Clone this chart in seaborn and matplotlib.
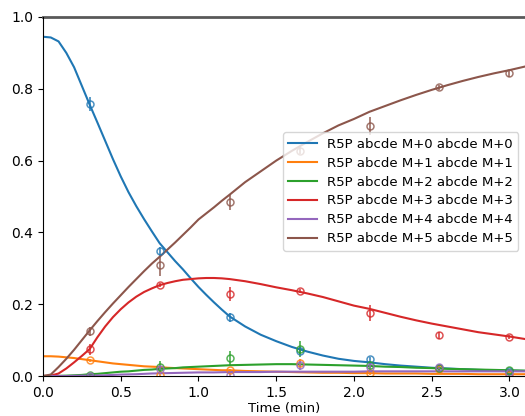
import matplotlib
matplotlib.use("Agg")
import matplotlib.pyplot as plt
import seaborn as sns
import pandas as pd
import numpy as np

labels = ["R5P abcde M+0 abcde M+0", "R5P abcde M+1 abcde M+1",
          "R5P abcde M+2 abcde M+2", "R5P abcde M+3 abcde M+3",
          "R5P abcde M+4 abcde M+4", "R5P abcde M+5 abcde M+5"]
colors = ["#1f77b4", "#ff7f0e", "#2ca02c", "#d62728", "#9467bd", "#8c564b"]

# simulated curves (read at 0.05 min steps up to 1.2, then 0.1)
t_sim = [0.0, 0.05, 0.1, 0.15, 0.2, 0.25, 0.3, 0.35, 0.4, 0.45, 0.5, 0.55, 0.6, 0.65,
         0.7, 0.75, 0.8, 0.85, 0.9, 0.95, 1.0, 1.05, 1.1, 1.15, 1.2,
         1.3, 1.4, 1.5, 1.6, 1.7, 1.8, 1.9, 2.0, 2.1, 2.2, 2.3, 2.4, 2.5, 2.6, 2.7,
         2.8, 2.9, 3.0, 3.1]
sim_m0 = [0.945, 0.943, 0.932, 0.900, 0.860, 0.808, 0.756, 0.706, 0.655, 0.604, 0.556,
          0.512, 0.473, 0.437, 0.403, 0.370, 0.345, 0.320, 0.297, 0.272, 0.248, 0.226,
          0.205, 0.185, 0.166,
          0.138, 0.115, 0.097, 0.081, 0.068, 0.057, 0.048, 0.042, 0.038, 0.033, 0.029,
          0.026, 0.023, 0.021, 0.019, 0.017, 0.016, 0.015, 0.014]
sim_m1 = [0.055, 0.055, 0.054, 0.052, 0.050, 0.047, 0.044, 0.041, 0.038, 0.035, 0.033,
          0.031, 0.029, 0.027, 0.026, 0.025, 0.023, 0.022, 0.021, 0.020, 0.019, 0.018,
          0.017, 0.016, 0.016,
          0.014, 0.013, 0.012, 0.011, 0.010, 0.009, 0.009, 0.008, 0.008, 0.007, 0.007,
          0.007, 0.006, 0.006, 0.006, 0.005, 0.005, 0.005, 0.005]
sim_m2 = [0.0, 0.0, 0.0005, 0.001, 0.002, 0.003, 0.005, 0.006, 0.008, 0.010, 0.012,
          0.013, 0.015, 0.017, 0.018, 0.020, 0.021, 0.022, 0.024, 0.025, 0.026, 0.027,
          0.028, 0.029, 0.030,
          0.031, 0.032, 0.033, 0.033, 0.032, 0.031, 0.030, 0.029, 0.028, 0.026, 0.025,
          0.023, 0.022, 0.020, 0.019, 0.018, 0.017, 0.016, 0.015]
sim_m3 = [0.0, 0.001, 0.007, 0.021, 0.038, 0.056, 0.075, 0.108, 0.138, 0.164, 0.186,
          0.205, 0.221, 0.234, 0.244, 0.253, 0.259, 0.264, 0.268, 0.270, 0.272, 0.273,
          0.273, 0.272, 0.270,
          0.264, 0.256, 0.247, 0.239, 0.230, 0.220, 0.208, 0.196, 0.187, 0.176, 0.165,
          0.155, 0.146, 0.138, 0.130, 0.122, 0.116, 0.110, 0.103]
sim_m4 = [0.0, 0.0, 0.0, 0.0, 0.0005, 0.001, 0.001, 0.0015, 0.002, 0.003, 0.004,
          0.0045, 0.005, 0.006, 0.007, 0.0075, 0.008, 0.0085, 0.009, 0.0095, 0.010, 0.010,
          0.010, 0.0105, 0.011,
          0.011, 0.011, 0.012, 0.012, 0.012, 0.012, 0.012, 0.012, 0.013, 0.013, 0.013,
          0.013, 0.013, 0.013, 0.013, 0.013, 0.013, 0.013, 0.013]
sim_m5 = [0.0, 0.004, 0.025, 0.048, 0.073, 0.100, 0.127, 0.153, 0.178, 0.202, 0.225,
          0.248, 0.270, 0.292, 0.313, 0.332, 0.352, 0.372, 0.393, 0.414, 0.436, 0.453,
          0.470, 0.488, 0.505,
          0.540, 0.570, 0.600, 0.627, 0.652, 0.676, 0.698, 0.716, 0.736, 0.752, 0.768,
          0.783, 0.797, 0.810, 0.822, 0.833, 0.843, 0.852, 0.862]

# measured data
t_obs = [0.3, 0.75, 1.2, 1.65, 2.1, 2.55, 3.0]
obs_m0 = [0.758, 0.348, 0.163, 0.070, 0.047, 0.022, 0.013]
obs_m1 = [0.044, 0.002, 0.016, 0.036, 0.007, 0.020, 0.003]
obs_m2 = [0.002, 0.026, 0.051, 0.075, 0.031, 0.022, 0.016]
obs_m3 = [0.074, 0.253, 0.228, 0.237, 0.175, 0.113, 0.109]
obs_m4 = [0.0, 0.020, 0.003, 0.030, 0.025, 0.025, 0.008]
obs_m5 = [0.124, 0.308, 0.485, 0.627, 0.696, 0.804, 0.843]
err_m0 = [0.020, 0.012, 0.012, 0.010, 0.005, 0.004, 0.003]
err_m1 = [0.004, 0.003, 0.004, 0.012, 0.004, 0.010, 0.002]
err_m2 = [0.002, 0.015, 0.020, 0.022, 0.010, 0.010, 0.004]
err_m3 = [0.016, 0.006, 0.020, 0.005, 0.022, 0.010, 0.005]
err_m4 = [0.003, 0.008, 0.004, 0.012, 0.008, 0.006, 0.003]
err_m5 = [0.012, 0.030, 0.022, 0.010, 0.025, 0.006, 0.010]

sims = [sim_m0, sim_m1, sim_m2, sim_m3, sim_m4, sim_m5]
obss = [obs_m0, obs_m1, obs_m2, obs_m3, obs_m4, obs_m5]
errs = [err_m0, err_m1, err_m2, err_m3, err_m4, err_m5]

sim_df = pd.DataFrame({
    "time": np.tile(t_sim, len(labels)),
    "value": np.concatenate(sims),
    "series": np.repeat(labels, len(t_sim)),
})

fig = plt.figure(figsize=(5.25, 4.16), dpi=100)
ax = fig.add_axes([43 / 525, 40 / 416, 482 / 525, 359 / 416])

sns.lineplot(data=sim_df, x="time", y="value", hue="series", hue_order=labels,
             palette=colors, linewidth=1.5, ax=ax, legend=True)

for o, e, c in zip(obss, errs, colors):
    ax.errorbar(t_obs, o, yerr=e, fmt="o", color=c, mfc="none", ms=5, mew=1.1,
                elinewidth=1.3, capsize=0, alpha=0.8, label="_nolegend_")

ax.axhline(1.0, color="0.35", lw=2, clip_on=False)
ax.set_xlim(0, 3.1)
ax.set_ylim(0, 1.0)
ax.set_xticks([0.0, 0.5, 1.0, 1.5, 2.0, 2.5, 3.0])
ax.set_yticks([0.0, 0.2, 0.4, 0.6, 0.8, 1.0])
ax.set_xlabel("Time (min)", labelpad=1.5, fontsize=9.5)
ax.set_ylabel("")
ax.spines["top"].set_visible(False)
ax.spines["right"].set_visible(False)

handles, labs = ax.get_legend_handles_labels()
ax.legend(handles[:6], labs[:6], loc="center right", title=None, fontsize=9.5,
          labelspacing=0.45, handlelength=2.15, bbox_to_anchor=(1.0, 0.514))

fig.savefig("out.png", dpi=100)
